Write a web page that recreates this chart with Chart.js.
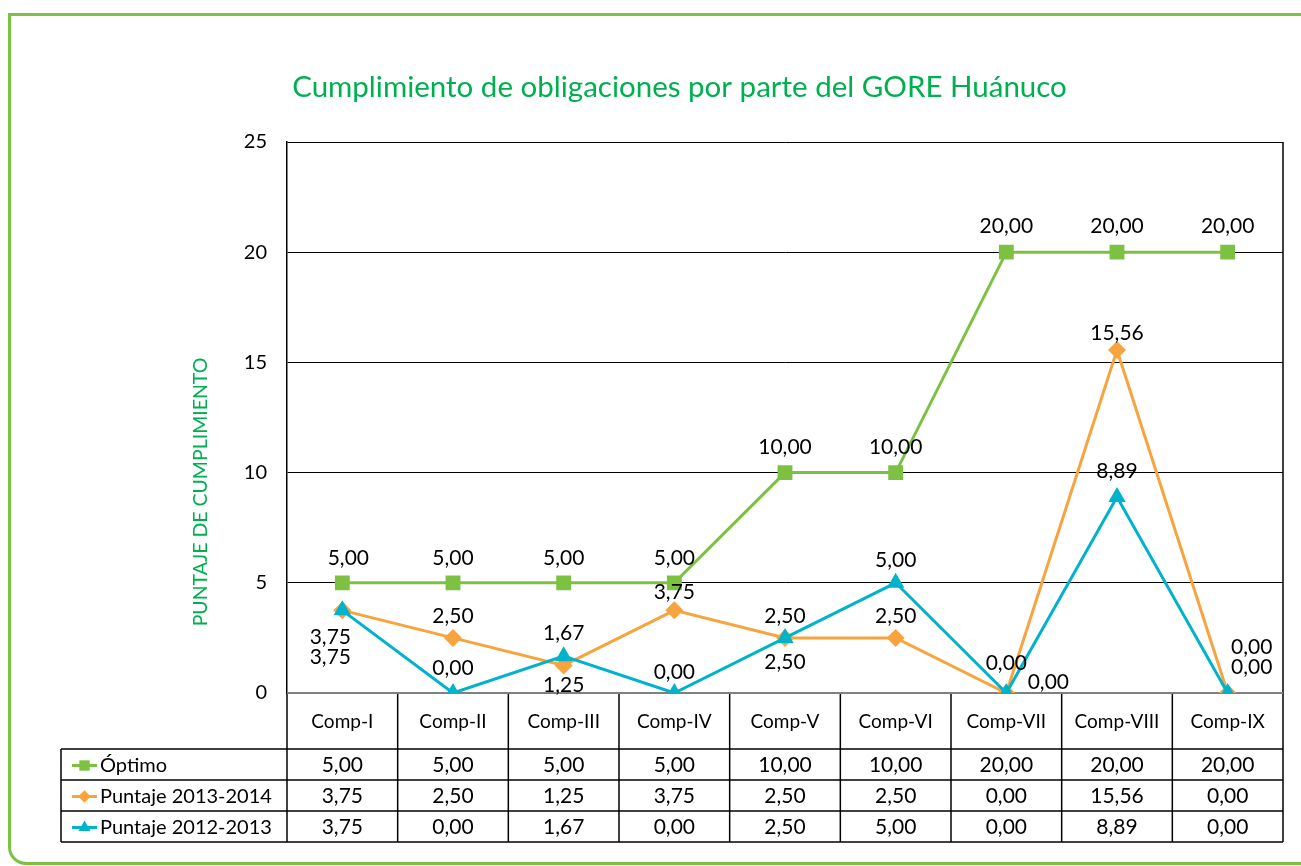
<!DOCTYPE html>
<html lang="es">
<head>
<meta charset="utf-8">
<title>Cumplimiento de obligaciones por parte del GORE Huánuco</title>
<script src="https://cdn.jsdelivr.net/npm/chart.js@4/dist/chart.umd.min.js"></script>
<style>
  html, body { margin: 0; padding: 0; background: #fff; overflow: hidden; }
  #wrap { position: relative; width: 1301px; height: 866px; }
  #frame {
    position: absolute; left: 8px; top: 13px; width: 1400px; height: 852px;
    border: 3px solid #7cc142; border-radius: 0 0 0 18px; box-sizing: border-box;
  }
  #chart { position: absolute; left: 0; top: 0; }
</style>
</head>
<body>
<div id="wrap">
  <div id="frame"></div>
  <canvas id="chart" width="1301" height="866"></canvas>
</div>
<script>
// Components evaluated and the scores per period
const categories = ['Comp-I', 'Comp-II', 'Comp-III', 'Comp-IV', 'Comp-V', 'Comp-VI', 'Comp-VII', 'Comp-VIII', 'Comp-IX'];
const optimo = [5, 5, 5, 5, 10, 10, 20, 20, 20];
const puntaje1314 = [3.75, 2.5, 1.25, 3.75, 2.5, 2.5, 0, 15.56, 0];
const puntaje1213 = [3.75, 0, 1.67, 0, 2.5, 5, 0, 8.89, 0];
const yTicks = [0, 5, 10, 15, 20, 25];

// where each value label sits relative to its point [dx, dy]
const offsOptimo = [[6, -25], [0, -25], [0, -25], [0, -25], [0, -25], [0, -25], [0, -26], [0, -26], [0, -26]];
const offs1314 = [[-12, 27], [0, -22], [0, 20], [0, -18], [0, -22], [0, -22], [0, -30], [0, -17], [24, -46]];
const offs1213 = [[-12, 47], [0, -25], [0, -23], [0, -21], [0, 24], [0, -23], [42, -11], [0, -26], [24, -26]];

const GREEN = '#7cc142';
const ORANGE = '#f8a43e';
const CYAN = '#00b2cb';
const TITLE_GREEN = '#00b050';
const FONT = 'Lato';

Chart.defaults.font.family = FONT;
Chart.defaults.color = '#000';

const fmt = v => v.toFixed(2).replace('.', ',');

const series = [
  { label: 'Óptimo', data: optimo, color: GREEN, style: 'rect', radius: 10.5, offs: offsOptimo },
  { label: 'Puntaje 2013-2014', data: puntaje1314, color: ORANGE, style: 'rectRot', radius: 9, offs: offs1314 },
  { label: 'Puntaje 2012-2013', data: puntaje1213, color: CYAN, style: 'triangle', radius: 10, offs: offs1213 }
];

// value labels next to every point
const pointLabels = {
  id: 'pointLabels',
  afterDatasetsDraw(chart) {
    const ctx = chart.ctx;
    ctx.save();
    ctx.font = '21px ' + FONT;
    ctx.fillStyle = '#000';
    ctx.textAlign = 'center';
    ctx.textBaseline = 'middle';
    chart.data.datasets.forEach((ds, di) => {
      const meta = chart.getDatasetMeta(di);
      meta.data.forEach((pt, i) => {
        const o = series[di].offs[i];
        ctx.fillText(fmt(ds.data[i]), pt.x + o[0], pt.y + o[1]);
      });
    });
    ctx.restore();
  }
};

// data table under the plot, with the category names as header row
const headH = 56;
const rowH = 31;
const keyLeft = 61;

const dataTable = {
  id: 'dataTable',
  beforeDatasetsDraw(chart) {
    const { ctx, chartArea: a, scales: { x } } = chart;
    const step = (a.right - a.left) / categories.length;
    const tableTop = a.bottom + headH;
    const tableBottom = tableTop + rowH * series.length;

    ctx.save();
    ctx.strokeStyle = '#000';
    ctx.lineWidth = 1.5;

    // right border of the plot
    ctx.beginPath();
    ctx.moveTo(a.right, a.top);
    ctx.lineTo(a.right, tableBottom);
    ctx.stroke();

    // column separators
    for (let i = 0; i < categories.length; i++) {
      const xl = x.getPixelForValue(i) - step / 2;
      ctx.beginPath();
      ctx.moveTo(xl, a.bottom);
      ctx.lineTo(xl, tableBottom);
      ctx.stroke();
    }

    // row lines
    for (let r = 0; r <= series.length; r++) {
      const y = tableTop + rowH * r;
      ctx.beginPath();
      ctx.moveTo(keyLeft, y);
      ctx.lineTo(a.right, y);
      ctx.stroke();
    }
    ctx.beginPath();
    ctx.moveTo(keyLeft, tableTop);
    ctx.lineTo(keyLeft, tableBottom);
    ctx.stroke();

    // zero line on top of the header row
    ctx.strokeStyle = '#808080';
    ctx.lineWidth = 2;
    ctx.beginPath();
    ctx.moveTo(a.left, a.bottom);
    ctx.lineTo(a.right, a.bottom);
    ctx.stroke();

    ctx.fillStyle = '#000';
    ctx.font = '19px ' + FONT;
    ctx.textAlign = 'center';
    ctx.textBaseline = 'middle';
    categories.forEach((c, i) => {
      ctx.fillText(c, x.getPixelForValue(i), a.bottom + headH / 2 + 1);
    });

    series.forEach((s, r) => {
      const cy = tableTop + rowH * r + rowH / 2 + 1;
      ctx.font = '21px ' + FONT;
      ctx.textAlign = 'center';
      s.data.forEach((v, i) => {
        ctx.fillText(fmt(v), x.getPixelForValue(i), cy);
      });
      // legend key
      ctx.strokeStyle = s.color;
      ctx.lineWidth = 3;
      ctx.beginPath();
      ctx.moveTo(72, cy);
      ctx.lineTo(97, cy);
      ctx.stroke();
      ctx.fillStyle = s.color;
      Chart.helpers.drawPoint(ctx, { pointStyle: s.style, radius: s.radius * 0.7, borderWidth: 0 }, 84.5, cy);
      ctx.fillStyle = '#000';
      ctx.textAlign = 'left';
      ctx.font = '20px ' + FONT;
      ctx.fillText(s.label, 100, cy);
    });

    // axis title, centred over plot plus table
    ctx.save();
    ctx.translate(201, (a.top + tableBottom) / 2);
    ctx.rotate(-Math.PI / 2);
    ctx.fillStyle = TITLE_GREEN;
    ctx.font = '19.5px ' + FONT;
    ctx.textAlign = 'center';
    ctx.fillText('PUNTAJE DE CUMPLIMIENTO', 0, 0);
    ctx.restore();

    ctx.restore();
  }
};

new Chart(document.getElementById('chart'), {
  type: 'line',
  data: {
    labels: categories,
    datasets: series.map((s, i) => ({
      label: s.label,
      data: s.data,
      borderColor: s.color,
      backgroundColor: s.color,
      borderWidth: 3,
      pointStyle: s.style,
      pointRadius: s.radius,
      pointBorderWidth: 0,
      tension: 0,
      order: series.length - i
    }))
  },
  options: {
    responsive: false,
    animation: false,
    layout: { padding: { left: 76, right: 18, top: 0, bottom: 173 } },
    plugins: {
      legend: { display: false },
      tooltip: { enabled: false },
      title: {
        display: true,
        text: 'Cumplimiento de obligaciones por parte del GORE Huánuco',
        color: TITLE_GREEN,
        font: { size: 29.5, weight: 'normal' },
        padding: { top: 70, bottom: 36.6 }
      }
    },
    scales: {
      x: {
        display: false,
        offset: true
      },
      y: {
        min: 0,
        max: 25,
        afterFit: scale => { scale.width = 211; },
        afterBuildTicks: scale => { scale.ticks = yTicks.map(v => ({ value: v })); },
        ticks: { font: { size: 20 }, color: '#000', padding: 20 },
        grid: {
          color: c => c.tick && c.tick.value === 0 ? 'rgba(0,0,0,0)' : '#000',
          lineWidth: 1,
          drawTicks: false
        },
        border: { display: true, color: '#000', width: 1.5 }
      }
    }
  },
  plugins: [dataTable, pointLabels]
});
</script>
</body>
</html>
